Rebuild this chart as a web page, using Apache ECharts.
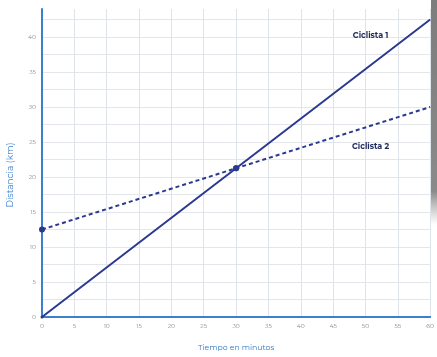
<!DOCTYPE html>
<html><head><meta charset="utf-8">
<script src="https://cdn.jsdelivr.net/npm/echarts@6/dist/echarts.min.js"></script>
<style>html,body{margin:0;padding:0;background:#fff}#c{width:437px;height:357px}</style>
</head><body><div id="c"></div>
<script>
const ciclista1 = [[0, 0], [30, 21.25], [60, 42.5]];
const ciclista2 = [[0, 12.5], [30, 21.25], [60, 30]];
const seriesNames = ['Ciclista 1', 'Ciclista 2'];
const xTicks = [0, 5, 10, 15, 20, 25, 30, 35, 40, 45, 50, 55, 60];
const yTicks = [0, 5, 10, 15, 20, 25, 30, 35, 40];

const chart = echarts.init(document.getElementById('c'), null, {renderer: 'canvas'});
const navy = '#2b3990';
const axisBlue = '#3b80cf';
const font = 'Montserrat, "Open Sans", "DejaVu Sans", sans-serif';
chart.setOption({
  animation: false,
  backgroundColor: '#fff',
  grid: {left: 42, right: 6, top: 9, bottom: 36},
  xAxis: {
    type: 'value', min: 0, max: 60, interval: 5,
    name: 'Tiempo en minutos', nameLocation: 'middle', nameGap: 27,
    nameTextStyle: {color: '#3378c4', fontSize: 7.8, fontFamily: font},
    axisLine: {show: true, onZero: false, lineStyle: {color: axisBlue, width: 2}},
    axisTick: {show: false},
    axisLabel: {color: '#888', fontSize: 6, margin: 6, fontFamily: font,
      formatter: v => xTicks.includes(v) ? String(v) : ''},
    splitLine: {show: true, lineStyle: {color: '#dfe4ea', width: 1}}
  },
  yAxis: {
    type: 'value', min: 0, max: 44, interval: 2.5,
    name: '',
    axisLine: {show: true, onZero: false, lineStyle: {color: axisBlue, width: 2}},
    axisTick: {show: false},
    axisLabel: {color: '#888', fontSize: 6, margin: 6, fontFamily: font, showMaxLabel: false,
      formatter: v => yTicks.includes(v) ? String(v) : ''},
    splitLine: {show: true, showMaxLine: false, lineStyle: {color: '#e3e7ec', width: 1}}
  },
  series: [
    {name: seriesNames[0], type: 'line', data: ciclista1, z: 3,
     lineStyle: {color: navy, width: 2}, itemStyle: {color: navy},
     symbol: 'circle', symbolSize: (v, p) => p.dataIndex === 1 ? 6 : (p.dataIndex === 0 ? 3 : 0),
     markPoint: {symbol: 'circle', symbolSize: 0,
       data: [{coord: [50.8, 40.2], label: {show: true, formatter: seriesNames[0], color: '#1f2a5c', fontSize: 8, fontWeight: 'bold', fontFamily: font, position: 'inside'}}]}},
    {name: seriesNames[1], type: 'line', data: ciclista2, z: 2,
     lineStyle: {color: navy, width: 2, type: [4, 3]}, itemStyle: {color: navy},
     symbol: 'circle', symbolSize: (v, p) => p.dataIndex === 2 ? 0 : 6,
     markPoint: {symbol: 'circle', symbolSize: 0,
       data: [{coord: [50.8, 24.4], label: {show: true, formatter: seriesNames[1], color: '#1f2a5c', fontSize: 8, fontWeight: 'bold', fontFamily: font, position: 'inside'}}]}}
  ],
  graphic: [{
    type: 'text', x: 10, y: 175, rotation: Math.PI / 2,
    style: {text: 'Distancia (km)', fill: axisBlue, fontSize: 9, fontFamily: font, align: 'center', verticalAlign: 'middle'}
  }, {
    type: 'rect', left: 431, top: 0, shape: {width: 6, height: 225}, z: 100,
    style: {fill: new echarts.graphic.LinearGradient(0, 0, 0, 1, [
      {offset: 0, color: '#7d7d7d'}, {offset: 0.85, color: '#8a8a8a'}, {offset: 1, color: 'rgba(160,160,160,0)'}])}
  }]
});
</script></body></html>
